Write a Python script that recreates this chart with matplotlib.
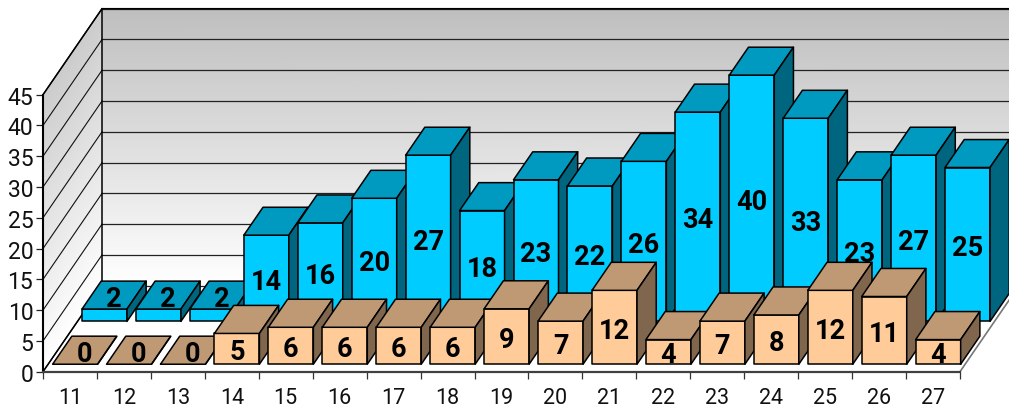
import numpy as np
import matplotlib
matplotlib.use("Agg")
import matplotlib.pyplot as plt
from matplotlib.patches import Polygon
from matplotlib.colors import LinearSegmentedColormap

plt.rcParams['font.family'] = ['Roboto', 'Liberation Sans', 'DejaVu Sans']

categories = ['11', '12', '13', '14', '15', '16', '17', '18', '19', '20', '21', '22', '23', '24', '25', '26', '27']
back_values = [2, 2, 2, 14, 16, 20, 27, 18, 23, 22, 26, 34, 40, 33, 23, 27, 25]
front_values = [0, 0, 0, 5, 6, 6, 6, 6, 9, 7, 12, 4, 7, 8, 12, 11, 4]
y_ticks = [0, 5, 10, 15, 20, 25, 30, 35, 40, 45]

W, H = 1009, 410
L, R, B, T = 43, 960, 372.7, 95.7
YMAX = 45
n = len(categories)

fig = plt.figure(figsize=(W / 100, H / 100), dpi=100, facecolor='white')
ax = fig.add_axes([L / W, (H - B) / H, (R - L) / W, (B - T) / H])
ax.set_xlim(0, n)
ax.set_ylim(0, YMAX)
ax.patch.set_visible(False)

# oblique depth: full depth shifts 59 px right and 86 px up
DX = 59 / ((R - L) / n)
DY = 86 / ((B - T) / YMAX)


def proj(x, y, d):
    return (x + DX * d, y + DY * d)


wall_cmap = LinearSegmentedColormap.from_list('wall', ['#ffffff', '#bebebe'])

# back wall (gradient)
vv = np.array([0, YMAX], dtype=float)
xx = np.array([0, n], dtype=float)
X, Y = np.meshgrid(xx, vv)
PX, PY = proj(X, Y, 1.0)
ax.pcolormesh(PX, PY, np.array([[0, 0], [1, 1]], dtype=float), cmap=wall_cmap, vmin=0, vmax=1,
              shading='gouraud', clip_on=False, zorder=1)
# side wall (gradient)
D, V = np.meshgrid(np.array([0.0, 1.0]), vv)
SX, SY = proj(0 * D, V, D)
ax.pcolormesh(SX, SY, np.array([[0, 0], [0.78, 0.78]], dtype=float), cmap=wall_cmap, vmin=0, vmax=1,
              shading='gouraud', clip_on=False, zorder=1)

# grid on walls
for v in y_ticks:
    a = proj(0, v, 0)
    b = proj(0, v, 1)
    c = proj(n, v, 1)
    ax.plot([a[0], b[0]], [a[1], b[1]], color='#111111', lw=0.8, clip_on=False, zorder=2)
    ax.plot([b[0], c[0]], [b[1], c[1]], color='#222222', lw=0.9, clip_on=False, zorder=2)

# frame of the walls
p = [proj(0, YMAX, 0), proj(0, YMAX, 1), proj(n, YMAX, 1)]
ax.plot(*zip(*p), color='black', lw=1.1, clip_on=False, zorder=2)
p = [proj(0, 0, 0), proj(0, 0, 1), proj(0, YMAX, 1)]
ax.plot(*zip(*p), color='black', lw=1.1, clip_on=False, zorder=2)
p = [proj(n, 0, 0), proj(n, 0, 1)]
ax.plot(*zip(*p), color='#777777', lw=1.2, clip_on=False, zorder=2)

GAP = 0.083
BAR = 0.834
labels = []


def draw_series(values, d0, d1, front, top, side, z):
    for i, v in enumerate(values):
        x0, x1 = i + GAP, i + GAP + BAR
        faces = [
            ([proj(x0, 0, d0), proj(x1, 0, d0), proj(x1, v, d0), proj(x0, v, d0)], front),
            ([proj(x0, v, d0), proj(x1, v, d0), proj(x1, v, d1), proj(x0, v, d1)], top),
            ([proj(x1, 0, d0), proj(x1, 0, d1), proj(x1, v, d1), proj(x1, v, d0)], side),
        ]
        for pts, col in faces:
            ax.add_patch(Polygon(pts, closed=True, facecolor=col, edgecolor='black', lw=1.1,
                                 joinstyle='round', clip_on=False, zorder=z + i * 0.01))
        if v <= 2:
            lx, ly = proj((x0 + x1) / 2, v, (d0 + d1) / 2)
        else:
            lx, ly = proj((x0 + x1) / 2, v / 2, d0)
        labels.append((lx, ly, str(v)))


draw_series(back_values, 0.585, 0.91, '#00CCFF', '#0099BF', '#006680', 3)
draw_series(front_values, 0.087, 0.413, '#FFCC99', '#BF9973', '#80664D', 4)

for lx, ly, s in labels:
    ax.text(lx, ly, s, ha='center', va='center_baseline', fontsize=19.5, fontweight='bold',
            color='black', clip_on=False, zorder=6)

# axes
for s in ('top', 'right'):
    ax.spines[s].set_visible(False)
ax.spines['left'].set_color('black')
ax.spines['left'].set_linewidth(1.5)
ax.spines['bottom'].set_color('#404040')
ax.spines['bottom'].set_linewidth(1.6)
for s in ax.spines.values():
    s.set_zorder(5)
ax.set_yticks(y_ticks)
ax.set_yticklabels([str(v) for v in y_ticks], fontsize=16.5)
ax.tick_params(axis='y', length=5, width=0.9, color='#222222', pad=2, labelcolor='#111111')
ax.set_xticks(np.arange(n + 1))
ax.set_xticklabels([])
ax.tick_params(axis='x', which='major', length=5.2, width=0.9, color='#333333')
ax.set_xticks(np.arange(n) + 0.5, minor=True)
ax.set_xticklabels(categories, minor=True, fontsize=15.5, color='#111111')
ax.tick_params(axis='x', which='minor', length=0, pad=11)

fig.savefig('out.png', dpi=100, facecolor='white')
